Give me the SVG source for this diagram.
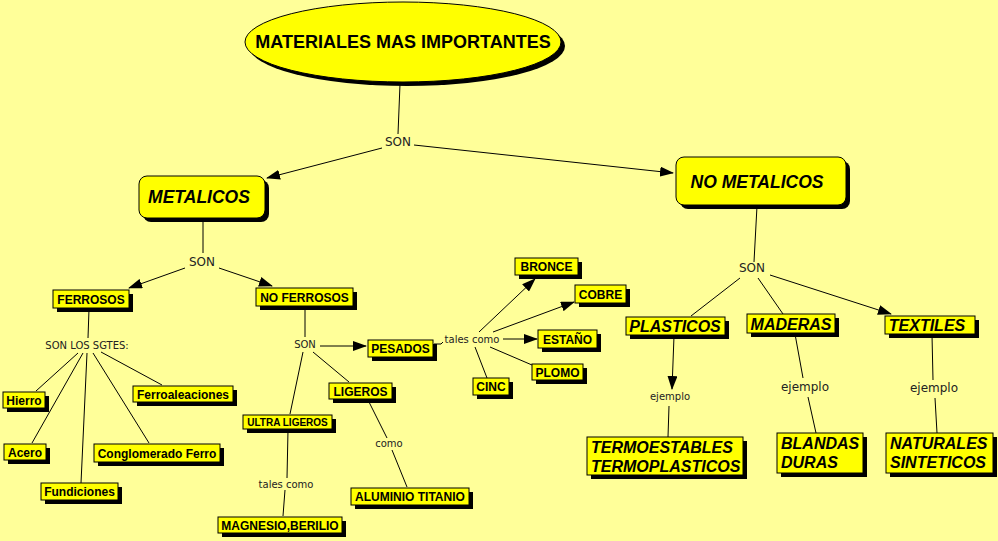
<svg xmlns="http://www.w3.org/2000/svg" width="998" height="541" viewBox="0 0 998 541">
<defs>
<style>
.bg{fill:#FFFF99}
.sh{fill:#000}
.box{fill:#FFFF00;stroke:#000;stroke-width:1}
.t{font-family:"Liberation Sans",Arial,sans-serif;font-weight:bold;font-size:12px;text-anchor:middle;fill:#000}
.ts{font-size:10px}
.ti{font-style:italic;font-size:16px}
.tb{font-size:17.5px}
.tl{text-anchor:start}
.lk{font-family:"DejaVu Sans",Verdana,sans-serif;font-size:10px;text-anchor:middle;fill:#222}
.lk12{font-size:12px}
.c line{stroke:#000;stroke-width:1}
.a{marker-end:url(#ah)}
</style>
<marker id="ah" markerWidth="14" markerHeight="10" refX="13" refY="5" orient="auto" markerUnits="userSpaceOnUse"><path d="M0,0 L14,5 L0,10 z" fill="#000"/></marker>
</defs>
<rect class="bg" x="0" y="0" width="998" height="541"/>

<g id="connectors" class="c">
<line x1="400" y1="84" x2="398" y2="134"/>
<line class="a" x1="382" y1="148" x2="267" y2="178"/>
<line class="a" x1="414" y1="145" x2="673" y2="173"/>
<line x1="203" y1="219" x2="203" y2="253"/>
<line class="a" x1="185" y1="268" x2="129" y2="288"/>
<line class="a" x1="219" y1="268" x2="272" y2="286"/>
<line x1="89" y1="309" x2="88" y2="338"/>
<line x1="78" y1="353" x2="36" y2="391"/>
<line x1="83" y1="353" x2="32" y2="443"/>
<line x1="87" y1="353" x2="81" y2="483"/>
<line x1="93" y1="353" x2="149" y2="443"/>
<line x1="101" y1="352" x2="162" y2="385"/>
<line x1="305" y1="307" x2="305" y2="337"/>
<line class="a" x1="320" y1="346" x2="366" y2="346"/>
<line x1="313" y1="352" x2="349" y2="382"/>
<line x1="303" y1="352" x2="290" y2="414"/>
<line x1="288" y1="430" x2="287" y2="478"/>
<line x1="285" y1="490" x2="283" y2="516"/>
<line x1="368" y1="400" x2="387" y2="438"/>
<line x1="392" y1="450" x2="407" y2="487"/>
<polyline points="434,344 441,344 443,342" fill="none" stroke="#000"/>
<line class="a" x1="479" y1="332" x2="535" y2="279"/>
<line class="a" x1="493" y1="332" x2="574" y2="302"/>
<line class="a" x1="503" y1="339" x2="537" y2="339"/>
<line x1="490" y1="347" x2="532" y2="365"/>
<line x1="475" y1="347" x2="487" y2="378"/>
<line x1="757" y1="206" x2="754" y2="262"/>
<line x1="740" y1="278" x2="691" y2="316"/>
<line x1="758" y1="278" x2="783" y2="314"/>
<line class="a" x1="770" y1="275" x2="891" y2="314"/>
<line class="a" x1="674" y1="336" x2="672" y2="389"/>
<line x1="669" y1="406" x2="668" y2="437"/>
<line x1="795" y1="334" x2="803" y2="378"/>
<line x1="808" y1="397" x2="816" y2="433"/>
<line x1="932" y1="335" x2="933" y2="380"/>
<line x1="935" y1="398" x2="937" y2="433"/>
</g>

<g id="labels">
<text class="lk lk12" x="398" y="146">SON</text>
<text class="lk lk12" x="202" y="266">SON</text>
<text class="lk" x="87" y="349">SON LOS SGTES:</text>
<text class="lk" x="305" y="348">SON</text>
<text class="lk" x="286" y="488">tales como</text>
<text class="lk" x="389" y="447">como</text>
<text class="lk" x="472" y="343">tales como</text>
<text class="lk lk12" x="752" y="272">SON</text>
<text class="lk" x="670" y="400">ejemplo</text>
<text class="lk lk12" x="805" y="391">ejemplo</text>
<text class="lk lk12" x="934" y="392">ejemplo</text>
</g>

<g id="n-main">
<ellipse class="sh" cx="407" cy="46" rx="158" ry="40"/>
<ellipse class="box" cx="403" cy="42" rx="158" ry="40"/>
<text class="t" style="font-size:18px" x="403" y="48">MATERIALES MAS IMPORTANTES</text>
</g>

<g id="n-metalicos">
<rect class="sh" x="143" y="180" width="126" height="42" rx="8"/>
<rect class="box" x="139" y="176" width="126" height="42" rx="8"/>
<text class="t ti tb" x="199" y="203">METALICOS</text>
</g>

<g id="n-nometalicos">
<rect class="sh" x="680" y="161" width="170" height="48" rx="8"/>
<rect class="box" x="676" y="157" width="170" height="48" rx="8"/>
<text class="t ti tb" x="757" y="188">NO METALICOS</text>
</g>

<g id="n-ferrosos">
<rect class="sh" x="57" y="294" width="76" height="18"/>
<rect class="box" x="53" y="290" width="76" height="18"/>
<text class="t" x="91" y="303.5">FERROSOS</text>
</g>

<g id="n-noferrosos">
<rect class="sh" x="260" y="292" width="97" height="18"/>
<rect class="box" x="256" y="288" width="97" height="18"/>
<text class="t" x="304.5" y="301.5">NO FERROSOS</text>
</g>

<g id="n-hierro">
<rect class="sh" x="7" y="396" width="42" height="16"/>
<rect class="box" x="3" y="392" width="42" height="16"/>
<text class="t" x="24" y="404.5">Hierro</text>
</g>

<g id="n-acero">
<rect class="sh" x="8" y="448" width="42" height="16"/>
<rect class="box" x="4" y="444" width="42" height="16"/>
<text class="t" x="25" y="456.5">Acero</text>
</g>

<g id="n-fundiciones">
<rect class="sh" x="45" y="487" width="77" height="17"/>
<rect class="box" x="41" y="483" width="77" height="17"/>
<text class="t" x="79.5" y="496">Fundiciones</text>
</g>

<g id="n-conglomerado">
<rect class="sh" x="98" y="448" width="126" height="18"/>
<rect class="box" x="94" y="444" width="126" height="18"/>
<text class="t" x="157" y="457.5">Conglomerado Ferro</text>
</g>

<g id="n-ferroaleaciones">
<rect class="sh" x="137" y="390" width="100" height="16"/>
<rect class="box" x="133" y="386" width="100" height="16"/>
<text class="t" x="183" y="398.5">Ferroaleaciones</text>
</g>

<g id="n-pesados">
<rect class="sh" x="372" y="344" width="65" height="17"/>
<rect class="box" x="368" y="340" width="65" height="17"/>
<text class="t" x="400.5" y="353">PESADOS</text>
</g>

<g id="n-ligeros">
<rect class="sh" x="333" y="387" width="63" height="16"/>
<rect class="box" x="329" y="383" width="63" height="16"/>
<text class="t" x="360.5" y="395.5">LIGEROS</text>
</g>

<g id="n-ultraligeros">
<rect class="sh" x="247" y="419" width="89" height="14"/>
<rect class="box" x="243" y="415" width="89" height="14"/>
<text class="t ts" x="287.5" y="425.5">ULTRA LIGEROS</text>
</g>

<g id="n-magnesio">
<rect class="sh" x="222" y="521" width="124" height="16"/>
<rect class="box" x="218" y="517" width="124" height="16"/>
<text class="t" x="280" y="529.5">MAGNESIO,BERILIO</text>
</g>

<g id="n-aluminio">
<rect class="sh" x="355" y="492" width="118" height="17"/>
<rect class="box" x="351" y="488" width="118" height="17"/>
<text class="t" x="410" y="501">ALUMINIO TITANIO</text>
</g>

<g id="n-bronce">
<rect class="sh" x="519" y="262" width="63" height="17"/>
<rect class="box" x="515" y="258" width="63" height="17"/>
<text class="t" x="546.5" y="271">BRONCE</text>
</g>

<g id="n-cobre">
<rect class="sh" x="579" y="289" width="51" height="18"/>
<rect class="box" x="575" y="285" width="51" height="18"/>
<text class="t" x="600.5" y="298.5">COBRE</text>
</g>

<g id="n-estano">
<rect class="sh" x="542" y="334" width="59" height="18"/>
<rect class="box" x="538" y="330" width="59" height="18"/>
<text class="t" x="567.5" y="343.5">ESTAÑO</text>
</g>

<g id="n-plomo">
<rect class="sh" x="536" y="368" width="51" height="16"/>
<rect class="box" x="532" y="364" width="51" height="16"/>
<text class="t" x="557.5" y="376.5">PLOMO</text>
</g>

<g id="n-cinc">
<rect class="sh" x="477" y="382" width="36" height="17"/>
<rect class="box" x="473" y="378" width="36" height="17"/>
<text class="t" x="491" y="391">CINC</text>
</g>

<g id="n-plasticos">
<rect class="sh" x="630" y="321" width="99" height="18"/>
<rect class="box" x="626" y="317" width="99" height="18"/>
<text class="t ti" x="675" y="332">PLASTICOS</text>
</g>

<g id="n-maderas">
<rect class="sh" x="751" y="318" width="88" height="19"/>
<rect class="box" x="747" y="314" width="88" height="19"/>
<text class="t ti" x="791" y="329.5">MADERAS</text>
</g>

<g id="n-textiles">
<rect class="sh" x="889" y="320" width="90" height="18"/>
<rect class="box" x="885" y="316" width="90" height="18"/>
<text class="t ti" x="927" y="331">TEXTILES</text>
</g>

<g id="n-termo">
<rect class="sh" x="591" y="441" width="156" height="38"/>
<rect class="box" x="587" y="437" width="156" height="38"/>
<text class="t ti tl" x="591" y="453">TERMOESTABLES</text>
<text class="t ti tl" x="591" y="472">TERMOPLASTICOS</text>
</g>

<g id="n-blandas">
<rect class="sh" x="781" y="437" width="86" height="40"/>
<rect class="box" x="777" y="433" width="86" height="40"/>
<text class="t ti tl" x="781" y="449">BLANDAS</text>
<text class="t ti tl" x="781" y="468">DURAS</text>
</g>

<g id="n-naturales">
<rect class="sh" x="890" y="437" width="107" height="40"/>
<rect class="box" x="886" y="433" width="107" height="40"/>
<text class="t ti tl" x="890" y="449">NATURALES</text>
<text class="t ti tl" x="890" y="468">SINTETICOS</text>
</g>
</svg>
